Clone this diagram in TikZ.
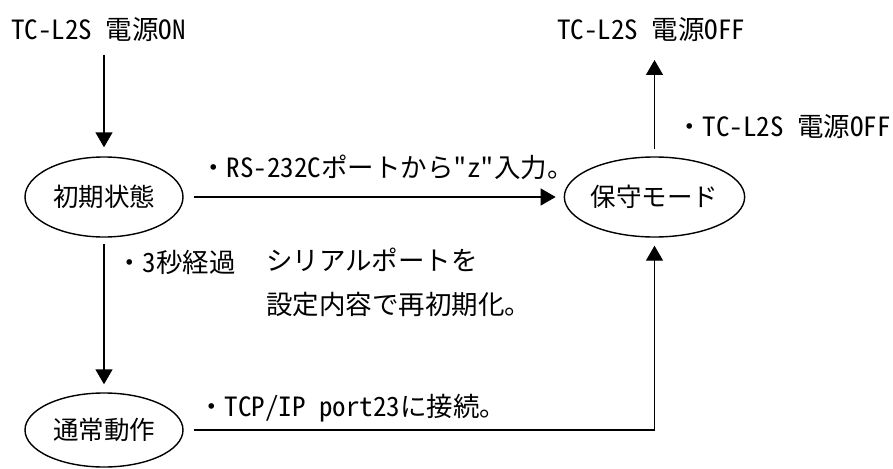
\documentclass[tikz,border=0pt]{standalone}
\usepackage{fontspec}
\setmainfont{Noto Sans CJK JP}
\newfontfamily\hw{Noto Sans CJK JP}[CharacterWidth=Half,FakeStretch=1.02,Ligatures=TeXOff]
\usetikzlibrary{shapes.geometric,arrows.meta}
\begin{document}
\begin{tikzpicture}[x=1pt,y=-1pt,
  every node/.style={font=\fontsize{26.5}{30}\selectfont},
  txt/.style={inner sep=0pt,anchor=west},
  state/.style={draw,ellipse,line width=1.4pt,inner sep=0pt,minimum width=158pt,font=\fontsize{25.5}{30}\selectfont},
  arr/.style={line width=1.4pt,-{Triangle[length=15pt,width=17pt]}}]
\useasboundingbox (0,0) rectangle (893,468);
% text labels
\node[txt] (on) at (11,30) {{\hw TC-L2S }電源{\hw ON}};
\node[txt] (off) at (557,30) {{\hw TC-L2S }電源{\hw OFF}};
\node[txt] (lrs) at (200,167) {・{\hw RS-232C}ポートから{\hw "z"}入力。};
\node[txt] (loff) at (676,127) {・{\hw TC-L2S }電源{\hw OFF}};
\node[txt] (l3s) at (116,262) {・{\hw 3}秒経過};
\node[txt,align=left,anchor=north west,font=\fontsize{26.5}{44}\selectfont] (lser) at (266,248) {シリアルポートを\\設定内容で再初期化。};
\node[txt] (ltcp) at (198,408) {・{\hw TCP/IP port23}に接続。};
% states
\node[state,minimum height=80pt] (init) at (104,197) {初期状態};
\node[state,minimum height=80pt] (hoshu) at (654.5,197) {保守モード};
\node[state,minimum height=74pt] (tsujo) at (104,430) {通常動作};
% helper ends
\coordinate (onend) at (104,55);
\coordinate (offtip) at (654.5,60);
% connectors
\draw[arr,shorten >=9pt] (onend) -- (init);
\draw[arr,shorten <=10pt,shorten >=8pt] (init.east) -- (hoshu.west);
\draw[arr,shorten <=7pt] (hoshu) -- (offtip);
\draw[arr,shorten <=6pt,shorten >=8pt] (init) -- (tsujo);
\draw[arr,shorten <=10pt,shorten >=8pt] (tsujo.east) -| (hoshu.south);
\end{tikzpicture}
\end{document}
